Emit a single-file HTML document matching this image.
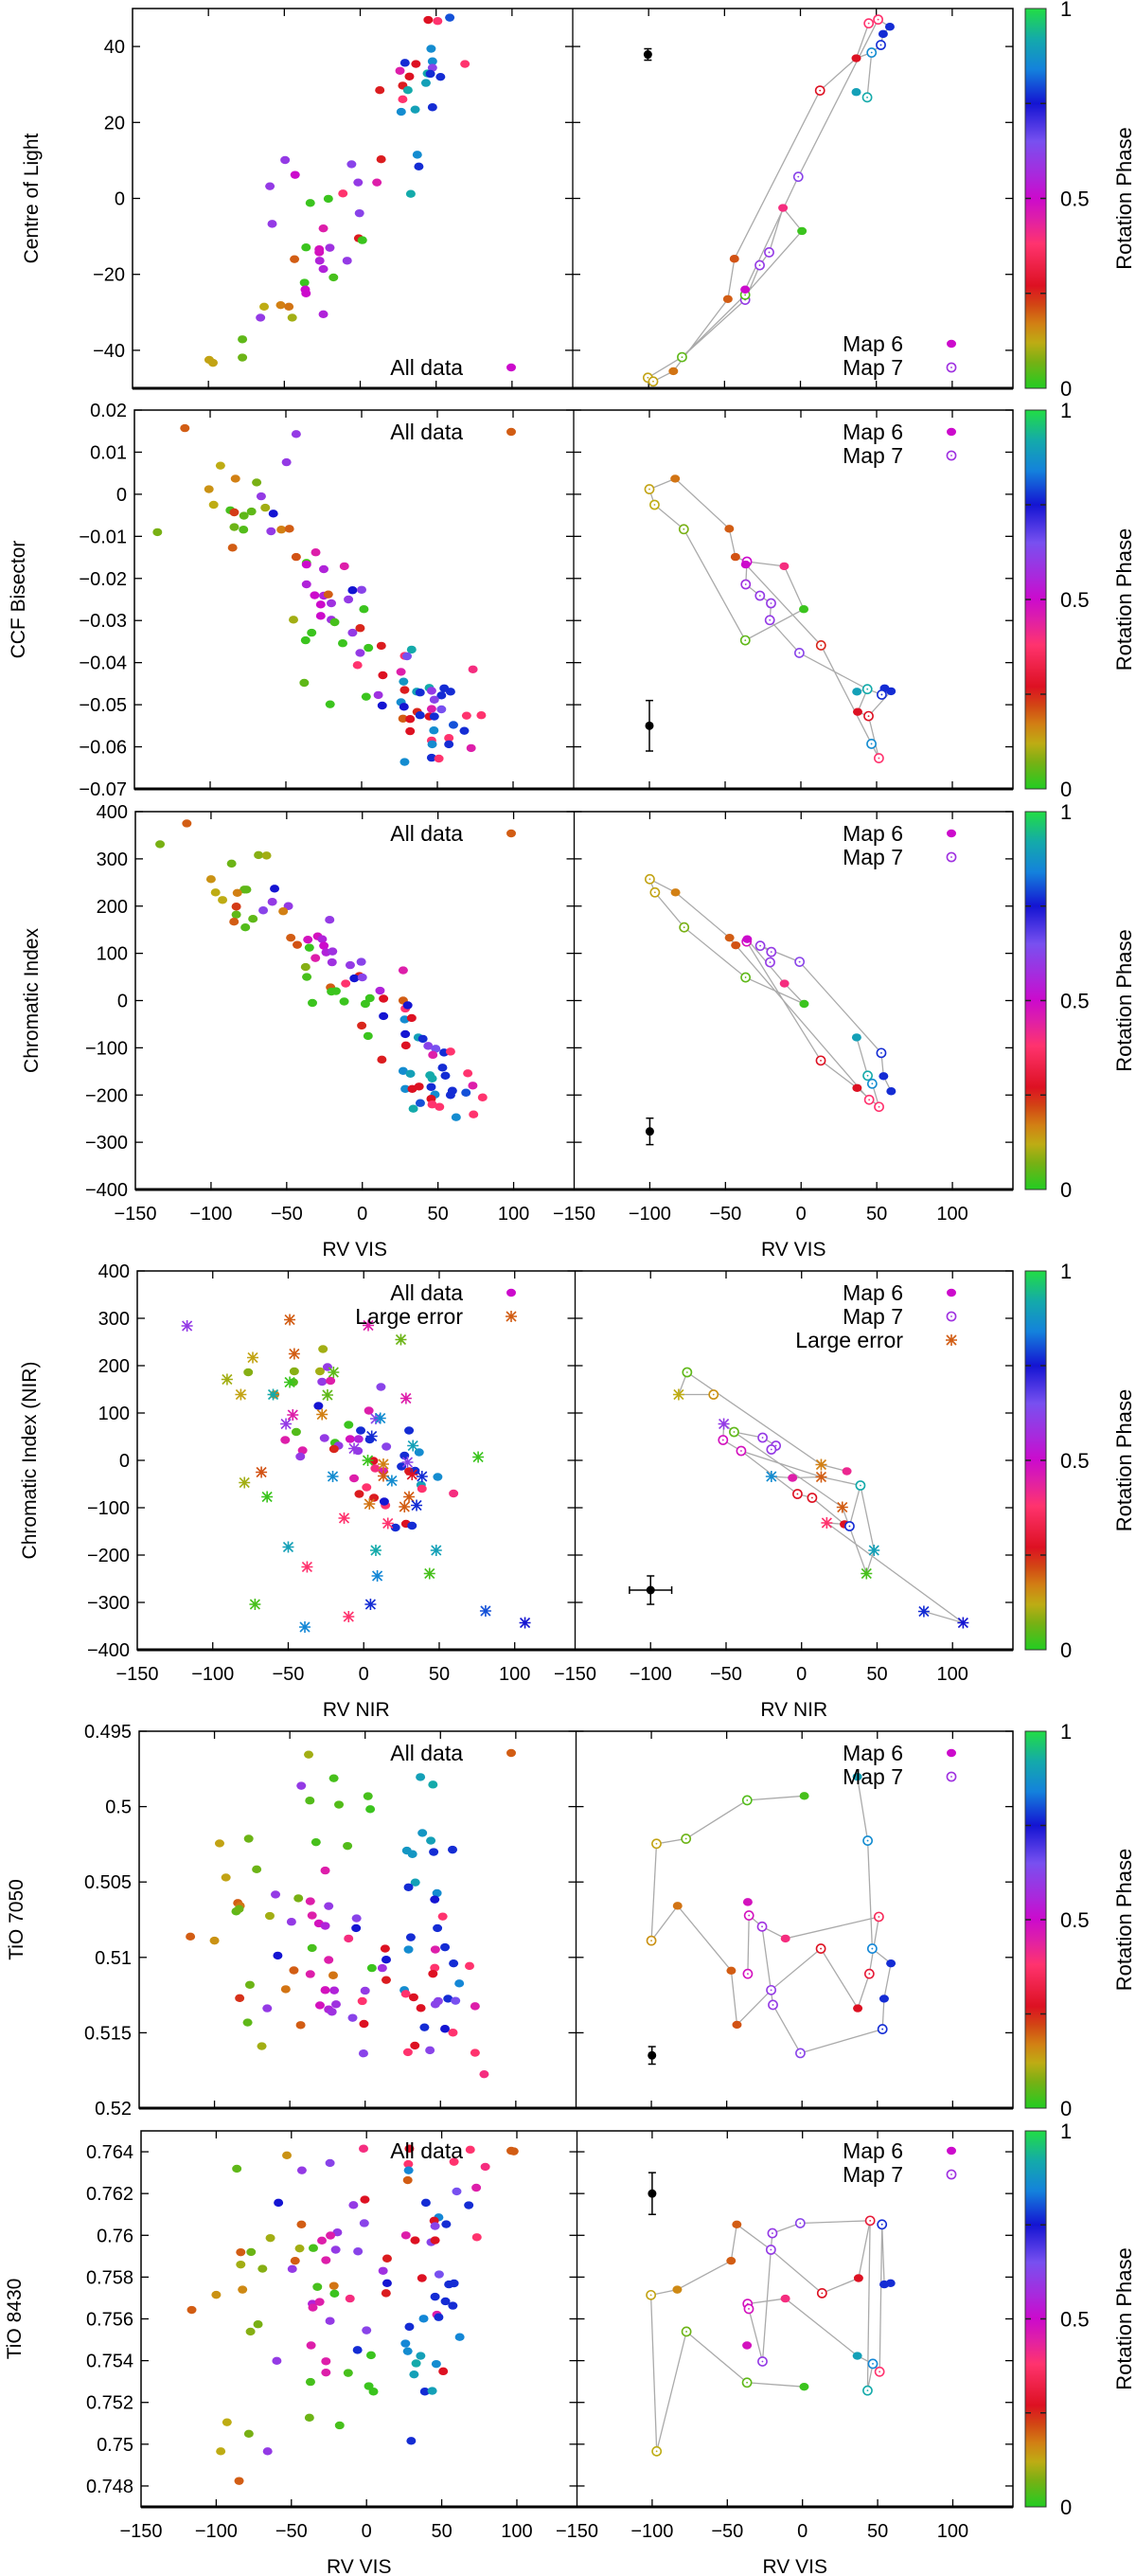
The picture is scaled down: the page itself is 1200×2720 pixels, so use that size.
<!DOCTYPE html>
<html><head><meta charset="utf-8"><title>Rotation phase scatter panels</title>
<style>
html,body{margin:0;padding:0;background:#fff;}
svg{display:block;font-family:"Liberation Sans",Arial,sans-serif;}
</style></head>
<body>
<svg id="fig" xmlns="http://www.w3.org/2000/svg" width="1200" height="2720" viewBox="0 0 1200 2720"></svg>
<script>
// ---------- DATA ----------
const xTickVals = [-150,-100,-50,0,50,100];
const phaseTicks = [0,0.5,1];

const r1YTicks = [-40,-20,0,20,40];
const r2YTicks = [0.02,0.01,0,-0.01,-0.02,-0.03,-0.04,-0.05,-0.06,-0.07];
const r3YTicks = [400,300,200,100,0,-100,-200,-300,-400];
const r4YTicks = [400,300,200,100,0,-100,-200,-300,-400];
const r5YTicks = [0.495,0.5,0.505,0.51,0.515,0.52];
const r6YTicks = [0.764,0.762,0.76,0.758,0.756,0.754,0.752,0.75,0.748];

const r1All = [[44.8,47,.27],[51,46.7,.38],[59,47.6,.8],[46.7,39.4,.86],[29.5,35.7,.77],[36.7,35.4,.27],[69,35.4,.38],[47.6,36.1,.86],[26.2,33.6,.45],[32.4,32.1,.27],[44.3,32.9,.92],[47.6,34.4,.62],[46.2,32.8,.77],[52.9,32,.77],[28,29.7,.26],[43.3,30.4,.9],[31.4,28.5,.92],[12.9,28.5,.26],[28,26.1,.38],[27,22.8,.86],[36.2,23.4,.9],[47.6,24,.77],[37.6,11.5,.86],[38.6,8.4,.77],[13.8,10.3,.26],[-49.5,10.1,.6],[-42.9,6.2,.5],[-5.7,9,.62],[-59.5,3.2,.6],[-1.4,4.2,.6],[11,4.2,.45],[33.3,1.2,.92],[-11.4,1.3,.38],[-21,-0.1,.02],[-32.9,-1.2,.02],[-0.5,-3.9,.62],[-58,-6.7,.6],[-24.3,-7.9,.45],[-1,-10.5,.26],[1.4,-11,.02],[-35.7,-12.9,.02],[-27,-13.4,.48],[-20,-13,.58],[-27,-14.2,.48],[-43.3,-16,.2],[-26.7,-16.4,.55],[-8.6,-16.4,.6],[-24.3,-18.6,.55],[-17.6,-20.8,.03],[-36.7,-22.2,.02],[-35.7,-25,.5],[-36.2,-24,.5],[-52.4,-28.1,.17],[-63.3,-28.5,.12],[-47,-28.5,.18],[-44.8,-31.4,.1],[-65.7,-31.4,.6],[-24.3,-30.5,.55],[-77.6,-37.1,.05],[-77.6,-41.9,.06],[-99.5,-42.5,.13],[-97,-43.3,.13]];
const r1Map = [[-100.5,-47.2,.13,'o'],[-97,-48.2,.13,'o'],[-83.7,-45.5,.18,'f'],[-78,-41.8,.05,'o'],[-47.8,-26.5,.2,'f'],[-43.5,-15.9,.21,'f'],[-36.4,-26.7,.6,'o'],[-36.4,-25.4,.04,'o'],[-36.4,-24,.5,'f'],[-26.8,-17.6,.6,'o'],[-20.6,-14.2,.6,'o'],[1,-8.6,.02,'f'],[-11.5,-2.5,.4,'f'],[-1.4,5.7,.62,'o'],[12.9,28.4,.27,'o'],[36.8,36.9,.27,'f'],[36.8,28,.9,'f'],[44,26.6,.92,'o'],[46.9,38.4,.86,'o'],[53,40.4,.77,'o'],[54.5,43.3,.77,'f'],[58.9,45.2,.77,'f'],[45,46.1,.38,'o'],[51.2,47.1,.38,'o']];
const r1Paths = [[1,2,4,5,14,15,22],[0,3,7,8,13,23],[6,9,10,12,11,7],[15,18,17],[18,19,20,21,23],[3,6]];
const r1Err = [-100.5,37.9,0,1.5];

const r2All = [[-116.7,0.0157,.2],[-43.2,0.0143,.6],[-93.2,0.0068,.12],[-49.6,0.0076,.6],[-83.3,0.0037,.17],[-69.3,0.0028,.07],[-100.8,0.0012,.15],[-66.3,-0.0005,.6],[-97.7,-0.0025,.12],[-86.7,-0.0038,.03],[-84.1,-0.0043,.23],[-72.7,-0.0041,.05],[-77.7,-0.0051,.05],[-63.6,-0.0032,.1],[-58.3,-0.0046,.75],[-134.8,-0.009,.07],[-84.1,-0.0078,.06],[-78,-0.0084,.04],[-59.8,-0.0088,.6],[-53,-0.0084,.17],[-47.7,-0.0082,.2],[-85.2,-0.0127,.2],[-43.2,-0.0149,.21],[-30.3,-0.0138,.45],[-36.4,-0.0163,.03],[-36.4,-0.0167,.5],[-25,-0.0178,.55],[-11.4,-0.0171,.45],[-36.4,-0.0214,.55],[-31,-0.024,.5],[-25,-0.0241,.55],[-22,-0.0238,.2],[-27,-0.0262,.5],[-20,-0.0259,.58],[-8.7,-0.025,.6],[-6,-0.0228,.75],[0,-0.0227,.62],[1.5,-0.0273,.02],[-27,-0.0289,.5],[-45,-0.0298,.1],[-20,-0.0298,.58],[-17.8,-0.0304,.03],[-33,-0.0329,.02],[-37,-0.0347,.02],[-6,-0.0329,.6],[-1,-0.0318,.25],[-12.5,-0.0354,.02],[4.5,-0.0365,.02],[13,-0.036,.26],[-1,-0.0377,.6],[33,-0.0369,.92],[28.4,-0.0384,.38],[30,-0.0385,.65],[-2.7,-0.0406,.38],[73.5,-0.0416,.4],[14,-0.043,.27],[26,-0.0422,.45],[-37.9,-0.0448,.05],[27.7,-0.0445,.88],[28.4,-0.0465,.26],[36.4,-0.0469,.9],[44.7,-0.046,.92],[38.6,-0.0471,.77],[46.2,-0.0467,.6],[54.5,-0.0461,.77],[58.7,-0.0469,.77],[52.7,-0.0478,.77],[48,-0.0488,.62],[3,-0.0481,.02],[11,-0.0477,.58],[-20.8,-0.0499,.02],[13.6,-0.0502,.75],[26,-0.0494,.86],[28,-0.0505,.75],[52.7,-0.0511,.65],[46.2,-0.051,.45],[36.7,-0.0517,.25],[38.6,-0.0525,.77],[27.3,-0.0533,.2],[32,-0.0534,.27],[44.7,-0.0528,.27],[48,-0.0528,.77],[69.3,-0.0526,.38],[79,-0.0525,.38],[60.6,-0.0548,.8],[67.8,-0.0562,.77],[47.7,-0.0561,.86],[32,-0.0563,.27],[46.2,-0.0585,.38],[57.6,-0.0579,.38],[46.6,-0.0594,.86],[57.6,-0.0594,.77],[72.3,-0.0603,.45],[46.2,-0.0626,.77],[51,-0.0628,.38],[28.4,-0.0636,.86]];
const r2Map = [[-100,0.0012,.13,'o'],[-83,0.0037,.18,'f'],[-47.3,-0.0082,.2,'f'],[-43.2,-0.0149,.21,'f'],[-35.6,-0.016,.5,'o'],[-11,-0.0171,.4,'f'],[1.9,-0.0273,.02,'f'],[-36.7,-0.0347,.05,'o'],[-77.3,-0.0083,.07,'o'],[-96.6,-0.0025,.12,'o'],[-36.4,-0.0167,.5,'f'],[-36.4,-0.0214,.58,'o'],[-27,-0.0241,.6,'o'],[-19.7,-0.0259,.6,'o'],[-20.5,-0.0299,.6,'o'],[-1,-0.0377,.62,'o'],[43.9,-0.0463,.92,'o'],[13.3,-0.0359,.25,'o'],[37,-0.0469,.9,'f'],[55.3,-0.0461,.77,'f'],[59.5,-0.0468,.77,'f'],[53.4,-0.0476,.77,'o'],[37.5,-0.0517,.27,'f'],[44.7,-0.0527,.27,'o'],[46.6,-0.0593,.86,'o'],[51.5,-0.0627,.38,'o']];
const r2Paths = [[0,1,2,3,4,5,6,7,8,9,0],[10,17,24,25,23,22,16,18],[4,11,12,13,14,15,16,21,19,20,23]];
const r2Err = [-100,-0.055,0,0.006];

const r3All = [[-116,375,.2],[-133.7,331,.07],[-68.6,308,.08],[-63.3,307,.1],[-86.4,290,.06],[-100,257,.15],[-97,229,.12],[-92.4,213,.12],[-78,235,.05],[-76.5,235,.05],[-82.6,228,.17],[-58,237,.75],[-59.5,209,.6],[-48.9,200,.6],[-65.5,191,.62],[-52.3,189,.17],[-83.3,199,.23],[-83.3,182,.05],[-84.8,167,.2],[-72.3,173,.05],[-77.3,155,.04],[-21.6,171,.6],[-47.3,133,.2],[-43,118,.21],[-36,129,.48],[-35,112,.02],[-29.5,136,.48],[-26.5,130,.55],[-25.4,116,.5],[-23.9,102,.55],[-19.7,104,.58],[-31,90,.45],[-20,81,.58],[-37.5,71,.08],[-36.7,50,.03],[-8,75,.6],[-0.7,82,.62],[27,64,.45],[-11,36,.38],[-2,52,.25],[-5.3,47,.75],[0,49,.62],[11.7,21,.55],[-21,28,.2],[-20.4,19,.02],[-17.4,20,.02],[-33,-5,.02],[-12,-2,.02],[2,-7,.02],[5,5,.02],[14,4,.27],[27,0,.2],[28.4,-17,.38],[30,-10,.75],[14,-33,.75],[28,-40,.86],[32.6,-37,.27],[-0.4,-53,.25],[3.8,-75,.02],[28.4,-71,.75],[37,-78,.9],[40,-81,.77],[43.5,-96,.62],[48.5,-102,.65],[54,-110,.77],[58.3,-108,.38],[46.6,-115,.45],[28.8,-95,.27],[12.9,-125,.26],[53,-142,.77],[27,-149,.86],[31.8,-155,.9],[44.7,-158,.92],[46.2,-165,.92],[54.9,-159,.77],[69.7,-154,.38],[73,-180,.45],[28.4,-187,.86],[33,-187,.27],[37.5,-182,.27],[45.5,-183,.77],[48,-199,.86],[59.5,-191,.77],[58.3,-200,.77],[68.5,-195,.8],[79.5,-205,.38],[45.5,-208,.27],[46.2,-220,.38],[51,-225,.38],[38.3,-217,.8],[33.7,-229,.92],[73.5,-241,.38],[62,-247,.86]];
const r3Map = [[-100,257,.13,'o'],[-96.6,229,.13,'o'],[-83,229,.17,'f'],[-47.3,133,.2,'f'],[-43.2,117,.21,'f'],[-36,125,.48,'o'],[-35.6,130,.5,'f'],[-27,116,.6,'o'],[-19.7,103,.6,'o'],[-20.5,81,.6,'o'],[-1,82,.62,'o'],[-11,36,.4,'f'],[2,-7,.02,'f'],[-36.7,49,.05,'o'],[-77.3,155,.07,'o'],[36.7,-78,.9,'f'],[53,-111,.77,'o'],[54.5,-160,.77,'f'],[44,-159,.92,'o'],[47,-176,.86,'o'],[59.5,-192,.77,'f'],[37,-185,.27,'f'],[13,-127,.27,'o'],[45,-210,.38,'o'],[51.5,-225,.38,'o']];
const r3Paths = [[0,2,3,4,23],[0,1,14,13,12,11,6],[5,22,21,24],[7,8,9],[7,10,16,17,20],[15,18,19,24]];
const r3Err = [-100,-277,0,28];

const r4AllX = [[-117,284,.6],[-49,297,.2],[3,285,.45],[24.6,255,.06],[-73.5,217,.13],[-46,225,.2],[-20,186,.05],[-90.5,171,.1],[-81.4,139,.13],[-60,139,.92],[-24,138,.05],[-49,165,.02],[28,131,.45],[-47,96,.45],[-27.6,97,.17],[-51.5,77,.6],[8,88,.62],[11,89,.86],[5.3,51,.77],[-6.4,25,.6],[32.6,31,.9],[75.8,7,.02],[2.7,0,.02],[13,-8,.17],[29,-4,.62],[-67.8,-25,.21],[-79,-47,.1],[-20.5,-34,.86],[13,-33,.2],[18.6,-43,.86],[32,-30,.27],[38.6,-34,.77],[-64,-77,.02],[30,-77,.2],[3.8,-92,.18],[27,-98,.2],[35,-95,.77],[-13,-122,.38],[16,-133,.38],[-50,-183,.9],[8,-190,.92],[48,-190,.9],[-37.5,-225,.38],[9,-244,.85],[43.6,-239,.03],[-72,-304,.03],[4.5,-304,.77],[80.7,-318,.8],[106.8,-343,.75],[-10,-330,.38],[-39,-352,.85]];
const r4AllC = [[-27,235,.1],[-76.5,186,.08],[-46,188,.08],[-46.6,165,.04],[-29,188,.1],[-24,197,.6],[-27.6,166,.6],[-22,168,.45],[11.4,155,.62],[-59,139,.17],[-30,115,.75],[3.4,105,.45],[-10,75,.02],[-44.7,60,.04],[-2,63,.77],[30,63,.77],[-52,43,.45],[-26,47,.6],[-9,45,.48],[-3.4,45,.55],[4,44,.77],[-19,37,.02],[-16.7,31,.6],[-19.7,24,.25],[-3.8,20,.6],[15,29,.62],[-40.5,21,.45],[-42,8,.6],[27,10,.77],[36.7,17,.86],[6.4,-1,.27],[7.6,-17,.4],[13,-23,.45],[25,-13,.77],[30,-23,.26],[34,-22,.77],[49,-35,.86],[-6.4,-38,.45],[1.9,-57,.38],[-3,-71,.26],[6.8,-79,.26],[14.4,-95,.38],[13.6,-87,.75],[38,-52,.9],[38.6,-60,.38],[59.5,-70,.4],[28,-134,.27],[21,-142,.77],[32,-138,.77]];
const r4Map = [[-75.8,186,.05,'o'],[-81.4,139,.12,'x'],[-58.3,139,.15,'o'],[-51.5,77,.6,'x'],[-44.7,60,.05,'o'],[-25.8,48,.6,'o'],[-17,31,.6,'o'],[-20,23,.6,'o'],[-52,43,.48,'o'],[-40,20,.48,'o'],[13,-9,.17,'x'],[30,-23,.42,'f'],[-20,-34,.86,'x'],[-6,-37,.45,'f'],[13,-35,.2,'x'],[39,-53,.92,'o'],[-2.7,-71,.27,'o'],[7,-79,.27,'o'],[27,-99,.2,'x'],[16.7,-132,.38,'x'],[28.4,-135,.27,'f'],[31.8,-139,.77,'o'],[48,-190,.9,'x'],[43,-239,.03,'x'],[81,-319,.77,'x'],[107,-343,.75,'x']];
const r4Paths = [[2,1,0,10,11],[3,4,5,6,7],[8,9,14,15,21],[12,13,14],[9,16,17,20,19,25,24],[4,18,23,22,15],[3,8]];
const r4Err = [-100,-274,14,30];

const r5All = [[-37.5,0.49655,.1],[-20.8,0.49812,.03],[-42.4,0.49862,.6],[36.7,0.49804,.9],[45,0.49854,.92],[-36.7,0.4996,.04],[-17.4,0.49987,.04],[1.9,0.49931,.03],[3.4,0.50017,.02],[-96.6,0.50244,.13],[-77.3,0.50213,.06],[-32.6,0.50236,.03],[-11.7,0.50261,.04],[38,0.50175,.88],[43.6,0.50226,.9],[27.7,0.50292,.88],[31.4,0.50315,.88],[45.5,0.50301,.77],[58,0.50286,.77],[-72,0.50416,.06],[-92.4,0.5047,.13],[-26.5,0.50424,.45],[33.3,0.50503,.9],[28.8,0.50535,.77],[47.7,0.50574,.86],[46.2,0.50616,.75],[-59.5,0.50583,.6],[-44.3,0.50608,.07],[-36.4,0.50628,.45],[-24.2,0.5066,.6],[-84.5,0.50639,.2],[-83,0.50658,.18],[-85.6,0.50695,.05],[-83.7,0.50679,.06],[-63.3,0.50725,.1],[-35.2,0.50722,.45],[-48.9,0.50764,.6],[-30.7,0.50775,.48],[-26.5,0.50791,.55],[-5.7,0.50741,.62],[-6,0.50806,.75],[51.5,0.50729,.38],[48,0.50806,.77],[-116,0.50862,.2],[-100,0.50889,.15],[-11,0.50875,.4],[30.3,0.50867,.77],[-35.2,0.50938,.03],[13.3,0.50942,.27],[28.8,0.50948,.86],[46.6,0.50948,.45],[53,0.50933,.77],[-58,0.50988,.75],[-24.2,0.51017,.45],[14,0.51015,.75],[4.5,0.51071,.02],[11.4,0.51071,.58],[46.2,0.51069,.38],[45,0.51109,.27],[58.7,0.5104,.77],[69.3,0.51057,.38],[-47.3,0.51086,.2],[-36.4,0.51111,.45],[-21.2,0.51119,.18],[14,0.5115,.26],[62.5,0.51173,.85],[-76.5,0.51182,.06],[-52.7,0.51211,.18],[-26.5,0.51217,.48],[-20.5,0.51219,.55],[0,0.51221,.6],[26,0.51217,.86],[27,0.51242,.38],[32.2,0.51265,.27],[-83.3,0.5127,.24],[-1.9,0.5129,.38],[37,0.51336,.27],[46.6,0.51311,.62],[48.5,0.5129,.62],[55,0.51274,.77],[60,0.51288,.65],[73,0.51324,.45],[-65,0.51338,.6],[-30,0.51318,.48],[-24.2,0.51345,.55],[-22,0.51361,.58],[-19.3,0.51311,.58],[-8.3,0.51401,.62],[-78,0.51432,.05],[-42.8,0.51449,.2],[-0.8,0.51441,.27],[39.4,0.51464,.77],[53,0.51474,.75],[58.3,0.51499,.38],[-68.6,0.51589,.1],[-1.1,0.51637,.62],[28.4,0.51629,.38],[33,0.51585,.27],[43,0.51616,.62],[73,0.51633,.38],[79,0.51775,.4]];
const r5Map = [[36.7,0.49802,.9,'f'],[43.6,0.50226,.86,'o'],[1.5,0.49929,.03,'f'],[-36.4,0.49958,.04,'o'],[-77,0.50213,.06,'o'],[-96.6,0.50246,.13,'o'],[-100,0.50889,.15,'o'],[-82.6,0.50658,.18,'f'],[-47,0.51088,.2,'f'],[-43.2,0.51447,.21,'f'],[-20.5,0.51217,.6,'o'],[12.5,0.50942,.27,'o'],[37,0.51338,.27,'f'],[44.7,0.51109,.3,'o'],[51,0.50731,.35,'o'],[46.6,0.50942,.85,'o'],[59,0.5104,.77,'f'],[54.5,0.51274,.77,'f'],[53.4,0.51476,.77,'o'],[-1.1,0.51635,.62,'o'],[-19.3,0.51315,.6,'o'],[-26.5,0.50796,.58,'o'],[-35.2,0.50722,.48,'o'],[-36,0.50633,.48,'f'],[-36,0.51109,.48,'o'],[-11,0.50875,.4,'f']];
const r5Paths = [[0,1,15,16,17,18,19,20,21,25,14,13,12,11,10,9,8,7,6,5,4,3,2],[24,22,21]];
const r5Err = [-99.6,0.5165,0,0.00058];

const r6All = [[-2,0.76415,.4],[28.5,0.76415,.27],[69,0.7641,.38],[98,0.76402,.2],[-53,0.76383,.15],[-86.3,0.76319,.05],[-43,0.76311,.6],[-24.3,0.76346,.62],[27.8,0.76341,.38],[28,0.76311,.85],[58.2,0.76352,.38],[79,0.76328,.4],[27.4,0.76264,.2],[60,0.7621,.65],[73,0.76228,.45],[-58.6,0.76156,.75],[-8.7,0.76145,.6],[-1.1,0.76171,.27],[39.5,0.76156,.77],[68,0.76144,.77],[-43.3,0.76052,.2],[-1.5,0.76058,.62],[48,0.76086,.85],[45,0.7607,.27],[45.6,0.76044,.62],[53,0.76053,.77],[-64,0.75987,.1],[-19.4,0.76014,.6],[-24,0.75999,.45],[-29.7,0.75975,.45],[26.2,0.76,.45],[32.3,0.75976,.27],[43,0.75967,.62],[45.6,0.75976,.27],[73.4,0.75991,.38],[-83.7,0.75919,.2],[-76.8,0.7592,.06],[-44.5,0.75937,.1],[-35.4,0.75939,.03],[-20.5,0.75931,.6],[-5.7,0.75923,.62],[-47.5,0.75878,.2],[-27,0.75881,.45],[13.7,0.75889,.26],[-83.7,0.7586,.1],[-69.2,0.7584,.08],[-49.4,0.75839,.6],[11,0.7583,.58],[-32.7,0.75753,.03],[-21.7,0.75758,.18],[-21.3,0.75721,.02],[13.7,0.75771,.75],[13,0.75723,.26],[36.9,0.75795,.27],[48.3,0.75813,.65],[54.8,0.75765,.77],[58.2,0.7577,.77],[-100,0.75715,.15],[-82.5,0.7574,.16],[-11,0.75697,.4],[-36,0.75672,.55],[-31.2,0.75681,.45],[-35.7,0.75654,.45],[45.6,0.75706,.77],[52.5,0.75684,.77],[57.4,0.75663,.77],[-116.3,0.75643,.2],[46.8,0.7562,.45],[48,0.75608,.77],[38,0.75601,.85],[-24.3,0.7559,.6],[-72.2,0.75574,.07],[-77.2,0.75539,.08],[0,0.75545,.62],[28.5,0.75562,.77],[62,0.75513,.85],[25.9,0.75482,.85],[27.4,0.75445,.86],[-36.9,0.75473,.45],[-6,0.75451,.77],[3,0.75426,.02],[36,0.75423,.9],[33,0.75387,.92],[46.4,0.75384,.86],[51,0.75349,.27],[31.6,0.75334,.9],[-59.7,0.75399,.6],[-27,0.75397,.45],[-27,0.75343,.45],[-12.2,0.75341,.03],[-37.3,0.75298,.03],[1.5,0.75278,.02],[4.6,0.75252,.02],[38.8,0.75252,.77],[43.7,0.75255,.9],[-38,0.75127,.06],[-17.9,0.7509,.03],[-92.8,0.75105,.12],[-78.3,0.7505,.07],[-97,0.74966,.12],[-65.8,0.74966,.6],[29.7,0.75016,.77],[-84.8,0.74824,.2]];
const r6Map = [[-43.7,0.76052,.2,'f'],[-47.5,0.75878,.2,'f'],[-83.3,0.7574,.16,'f'],[-100.8,0.75714,.13,'o'],[-97,0.74966,.12,'o'],[-77.2,0.75539,.06,'o'],[-36.9,0.75295,.05,'o'],[1.1,0.75275,.02,'f'],[-20,0.7601,.6,'o'],[-1.5,0.76058,.62,'o'],[45,0.7607,.3,'o'],[52.9,0.76052,.77,'o'],[-21,0.75931,.6,'o'],[13,0.75723,.27,'o'],[37.3,0.75795,.27,'f'],[54.4,0.75765,.77,'f'],[58.6,0.75771,.77,'f'],[-36.5,0.75672,.48,'o'],[-35.7,0.75648,.48,'o'],[-11.4,0.75697,.4,'f'],[-36.9,0.75473,.48,'f'],[-26.6,0.75396,.6,'o'],[36.5,0.75423,.9,'f'],[46.8,0.75385,.85,'o'],[51.3,0.75347,.38,'o'],[43.3,0.75257,.92,'o']];
const r6Paths = [[7,6,5,4,3,2,1,0,12,13,14,10,9,8],[8,12,21,18,17,19,22,23,24,11,15,16],[10,25,23]];
const r6Err = [-100,0.762,0,0.001];

// ---------- RENDER ----------
const NS = 'http://www.w3.org/2000/svg';
const svg = document.getElementById('fig');
const XMIN = -150, XMAX = 140;
const RIGHT = 1070;
const stops = [[0,[34,204,34]],[0.07,[120,176,20]],[0.12,[190,172,20]],[0.17,[210,128,20]],[0.22,[210,70,20]],[0.27,[221,17,34]],[0.38,[255,51,110]],[0.45,[221,30,170]],[0.5,[204,10,204]],[0.56,[170,40,220]],[0.65,[120,80,240]],[0.75,[20,20,210]],[0.84,[20,130,220]],[0.92,[20,170,170]],[1,[34,221,68]]];
function phaseColor(p){
  for(let i=1;i<stops.length;i++){
    if(p<=stops[i][0]){
      const a=stops[i-1],b=stops[i];const t=(p-a[0])/(b[0]-a[0]);
      const c=a[1].map((v,k)=>Math.round(v+(b[1][k]-v)*t));
      return 'rgb('+c.join(',')+')';
    }
  }
  return 'rgb(34,221,68)';
}
function mk(tag, attrs, parent){
  const e=document.createElementNS(NS,tag);
  for(const k in attrs) e.setAttribute(k,attrs[k]);
  (parent||svg).appendChild(e);
  return e;
}
function txt(s, attrs, parent){ const e=mk('text',attrs,parent); e.textContent=s; return e; }
function fmt(v){ const s=String(parseFloat(v.toPrecision(6))); return s.replace('-','\u2212'); }

// shared gradient
const defs = mk('defs',{});
const grad = mk('linearGradient',{id:'pg',x1:0,y1:1,x2:0,y2:0},defs);
stops.forEach(s=>{ mk('stop',{offset:s[0],'stop-color':'rgb('+s[1].join(',')+')'},grad); });

function marker(g, x, y, p, type, name){
  const col = phaseColor(p);
  let e;
  if(type==='f'){
    e = mk('ellipse',{cx:x,cy:y,rx:5,ry:4.2,fill:col},g);
  } else if(type==='o'){
    e = mk('g',{},g);
    mk('ellipse',{cx:x,cy:y,rx:4.6,ry:4.6,fill:'#fff',stroke:col,'stroke-width':1.6},e);
    mk('circle',{cx:x,cy:y,r:0.9,fill:col},e);
  } else {
    e = mk('path',{d:`M${x-5},${y-5}L${x+5},${y+5}M${x-5},${y+5}L${x+5},${y-5}M${x},${y-6}L${x},${y+6}M${x-6},${y}L${x+6},${y}`,stroke:col,'stroke-width':1.6,fill:'none'},g);
  }
  
  
}

function drawRow(c){
  const row = mk('g',{});
  
  
  const L=c.left, T=c.top, B=c.bottom, M=(L+RIGHT)/2, W=M-L;
  const ys = v => T + (c.ymax - v)/(c.ymax - c.ymin)*(B-T) * (c.rev?-1:1) + (c.rev?(B-T):0);
  const yS = v => c.rev ? T + (v - c.ymin)/(c.ymax-c.ymin)*(B-T) : T + (c.ymax - v)/(c.ymax-c.ymin)*(B-T);
  const xL = v => L + (v-XMIN)/(XMAX-XMIN)*W;
  const xR = v => M + (v-XMIN)/(XMAX-XMIN)*W;
  // frames
  const fr = mk('rect',{x:L,y:T,width:RIGHT-L,height:B-T,fill:'none',stroke:'#000','stroke-width':1.5},row);
  
  
  const bl = mk('line',{x1:L,y1:B,x2:RIGHT,y2:B,stroke:'#000','stroke-width':3},row);
  
  
  const ml = mk('line',{x1:M,y1:T,x2:M,y2:B,stroke:'#000','stroke-width':1.3},row);
  
  
  // y ticks
  const ytg = mk('g',{stroke:'#000','stroke-width':1.3},row);
  
  
  const ylg = mk('g',{'font-size':20,'text-anchor':'end',fill:'#000'},row);
  
  
  c.yticks.forEach(v=>{
    const y=yS(v);
    mk('line',{x1:L,y1:y,x2:L+8,y2:y},ytg);
    mk('line',{x1:M-8,y1:y,x2:M+8,y2:y},ytg);
    mk('line',{x1:RIGHT-8,y1:y,x2:RIGHT,y2:y},ytg);
    txt(fmt(v),{x:L-8,y:y+7},ylg);
  });
  // x ticks
  const xtg = mk('g',{stroke:'#000','stroke-width':1.3},row);
  
  
  const xlg = mk('g',{'font-size':20,'text-anchor':'middle',fill:'#000'},row);
  
  
  xTickVals.forEach(v=>{
    [xL(v),xR(v)].forEach(x=>{
      if(v!==XMIN){
        mk('line',{x1:x,y1:T,x2:x,y2:T+8},xtg);
        mk('line',{x1:x,y1:B-8,x2:x,y2:B},xtg);
      }
      if(c.xTitle) txt(fmt(v),{x:x,y:B+32},xlg);
    });
  });
  if(c.xTitle){
    const t1 = txt(c.xTitle,{x:(L+M)/2,y:B+70,'font-size':21,'text-anchor':'middle'},row);
    
    
    const t2 = txt(c.xTitle,{x:(M+RIGHT)/2,y:B+70,'font-size':21,'text-anchor':'middle'},row);
    
    
  }
  // y title
  const yt = txt(c.ytitle,{x:0,y:0,'font-size':21,'text-anchor':'middle',transform:`translate(${c.ytx},${(T+B)/2}) rotate(-90)`},row);
  
  
  // left points
  const lg = mk('g',{},row);
  
  
  c.all.forEach(d=>marker(lg,xL(d[0]),yS(d[1]),d[2],'f','all-data-point'));
  if(c.allX) c.allX.forEach(d=>marker(lg,xL(d[0]),yS(d[1]),d[2],'x','large-error-point'));
  // right paths
  const pg = mk('g',{stroke:'#aaa','stroke-width':1.3,fill:'none'},row);
  
  
  c.paths.forEach(path=>{
    const d = path.map((i,k)=>(k?'L':'M')+xR(c.map[i][0]).toFixed(1)+','+yS(c.map[i][1]).toFixed(1)).join('');
    const pe = mk('path',{d:d},pg);
    
    
  });
  const rg = mk('g',{},row);
  
  
  c.map.forEach(d=>marker(rg,xR(d[0]),yS(d[1]),d[2],d[3],d[3]==='f'?'map6-point':(d[3]==='o'?'map7-point':'large-error-point')));
  // error bar
  const e=c.err, eg = mk('g',{stroke:'#000','stroke-width':1.5},row);
  
  
  const ex=xR(e[0]), ey=yS(e[1]), y1=yS(e[1]-e[3]), y2=yS(e[1]+e[3]);
  mk('line',{x1:ex,y1:y1,x2:ex,y2:y2},eg);
  mk('line',{x1:ex-4,y1:y1,x2:ex+4,y2:y1},eg);
  mk('line',{x1:ex-4,y1:y2,x2:ex+4,y2:y2},eg);
  if(e[2]){
    const x1=xR(e[0]-e[2]), x2=xR(e[0]+e[2]);
    mk('line',{x1:x1,y1:ey,x2:x2,y2:ey},eg);
    mk('line',{x1:x1,y1:ey-4,x2:x1,y2:ey+4},eg);
    mk('line',{x1:x2,y1:ey-4,x2:x2,y2:ey+4},eg);
  }
  mk('circle',{cx:ex,cy:ey,r:4.5,fill:'#000',stroke:'none'},eg);
  // legends
  const lgd = mk('g',{'font-size':23,'text-anchor':'end'},row);
  
  
  c.legendL.forEach(it=>{
    txt(it[0],{x:489,y:it[1]+8},lgd);
    marker(lgd,540,it[1],it[2],it[3],'legend-entry-marker');
  });
  c.legendR.forEach(it=>{
    txt(it[0],{x:954,y:it[1]+8},lgd);
    marker(lgd,1005,it[1],it[2],it[3],'legend-entry-marker');
  });
  // colorbar
  const cb = mk('g',{},row);
  
  
  mk('rect',{x:1083,y:T,width:22,height:B-T,fill:'url(#pg)',stroke:'#333','stroke-width':1},cb);
  [0.25,0.5,0.75].forEach(p=>{
    const y=B-(B-T)*p;
    mk('line',{x1:1083,y1:y,x2:1089,y2:y,stroke:'#222','stroke-width':1.5},cb);
    mk('line',{x1:1099,y1:y,x2:1105,y2:y,stroke:'#222','stroke-width':1.5},cb);
  });
  phaseTicks.forEach(p=>{
    txt(String(p),{x:1120,y:B-(B-T)*p+8,'font-size':22},cb);
  });
  const cbt = txt('Rotation Phase',{x:0,y:0,'font-size':22,'text-anchor':'middle',transform:`translate(1195,${(T+B)/2}) rotate(-90)`},row);
  
  
}

drawRow({name:'row-centre-of-light',top:9,bottom:410,left:140,ymin:-50,ymax:50,yticks:r1YTicks,ytitle:'Centre of Light',ytx:40,all:r1All,map:r1Map,paths:r1Paths,err:r1Err,
  legendL:[['All data',388,.5,'f']],legendR:[['Map 6',363,.5,'f'],['Map 7',388,.58,'o']]});
drawRow({name:'row-ccf-bisector',top:433,bottom:833,left:142,ymin:-0.07,ymax:0.02,yticks:r2YTicks,ytitle:'CCF Bisector',ytx:26,all:r2All,map:r2Map,paths:r2Paths,err:r2Err,
  legendL:[['All data',456,.2,'f']],legendR:[['Map 6',456,.5,'f'],['Map 7',481,.58,'o']]});
drawRow({name:'row-chromatic-index',top:857,bottom:1256,left:143,ymin:-400,ymax:400,yticks:r3YTicks,ytitle:'Chromatic Index',ytx:40,all:r3All,map:r3Map,paths:r3Paths,err:r3Err,xTitle:'RV VIS',
  legendL:[['All data',880,.2,'f']],legendR:[['Map 6',880,.5,'f'],['Map 7',905,.58,'o']]});
drawRow({name:'row-chromatic-index-nir',top:1342,bottom:1742,left:145,ymin:-400,ymax:400,yticks:r4YTicks,ytitle:'Chromatic Index (NIR)',ytx:38,all:r4AllC,allX:r4AllX,map:r4Map,paths:r4Paths,err:r4Err,xTitle:'RV NIR',
  legendL:[['All data',1365,.5,'f'],['Large error',1390,.2,'x']],legendR:[['Map 6',1365,.5,'f'],['Map 7',1390,.58,'o'],['Large error',1415,.2,'x']]});
drawRow({name:'row-tio-7050',top:1828,bottom:2226,left:147,ymin:0.495,ymax:0.52,rev:true,yticks:r5YTicks,ytitle:'TiO 7050',ytx:24,all:r5All,map:r5Map,paths:r5Paths,err:r5Err,
  legendL:[['All data',1851,.2,'f']],legendR:[['Map 6',1851,.5,'f'],['Map 7',1876,.58,'o']]});
drawRow({name:'row-tio-8430',top:2250,bottom:2647,left:149,ymin:0.747,ymax:0.765,yticks:r6YTicks,ytitle:'TiO 8430',ytx:22,all:r6All,map:r6Map,paths:r6Paths,err:r6Err,xTitle:'RV VIS',
  legendL:[['All data',2271,.2,'f']],legendR:[['Map 6',2271,.5,'f'],['Map 7',2296,.58,'o']]});
</script>
</body></html>
